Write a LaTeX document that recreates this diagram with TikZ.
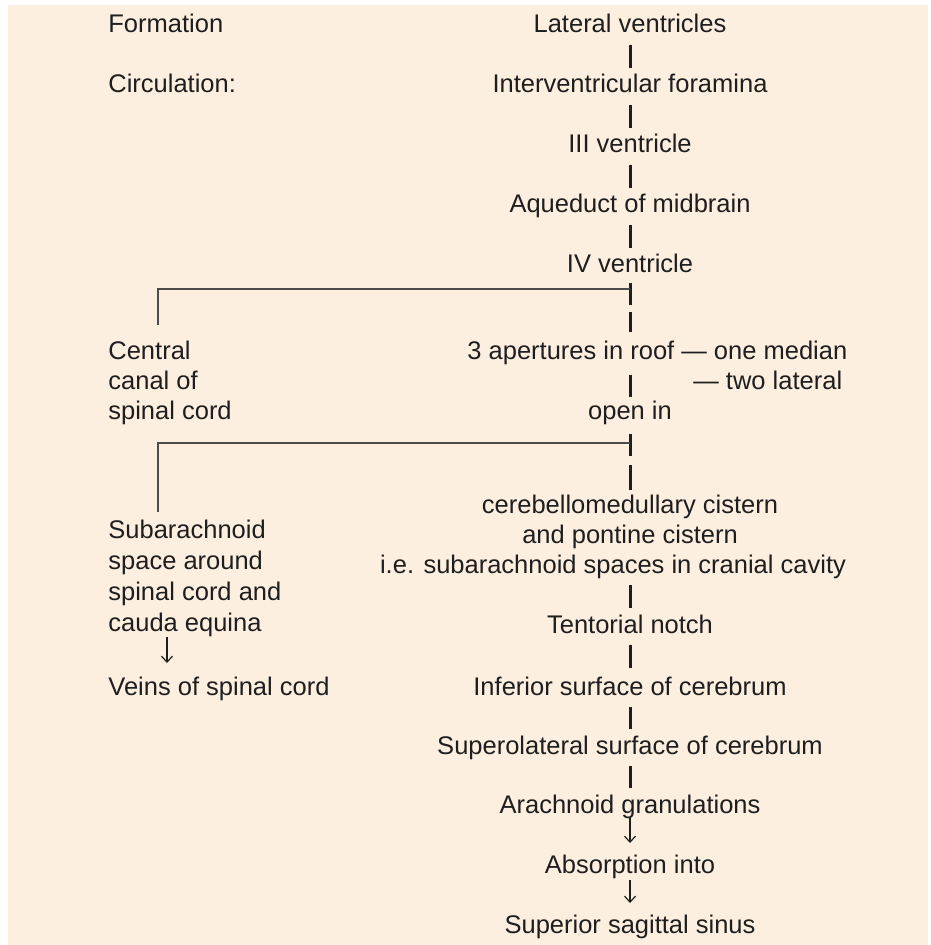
\documentclass[tikz,border=0pt]{standalone}
\usepackage{fontspec}
\setmainfont{Liberation Sans}
\usetikzlibrary{arrows.meta,calc}
\definecolor{paper}{RGB}{252,239,224}
\definecolor{ink}{RGB}{30,30,30}
\definecolor{rulegray}{RGB}{75,75,75}
\begin{document}
\begin{tikzpicture}[x=0.5pt,y=-0.5pt,
  txt/.style={inner sep=0pt, text=ink, font=\fontsize{12.75}{15}\selectfont},
  mid/.style={txt, anchor=base},
  lft/.style={txt, anchor=base west},
  tick/.style={draw=ink, line width=1.5pt},
  branch/.style={draw=rulegray, line width=1.1pt},
  flow/.style={draw=ink, line width=0.6pt, -{Straight Barb[length=3pt,width=5.5pt]}}
]
\fill[white] (0,0) rectangle (930,945);
\fill[paper] (8,5) rectangle (928,945);
\useasboundingbox (0,0) rectangle (930,945);

% headings on the left
\node[lft] (formation) at (108,33) {Formation};
\node[lft] (circ) at (108,93) {Circulation:};

% main pathway
\node[mid] (lv)   at (630,33)  {Lateral ventricles};
\node[mid] (ivf)  at (630,93)  {Interventricular foramina};
\node[mid] (iii)  at (630,153) {III ventricle};
\node[mid] (aq)   at (630,213) {Aqueduct of midbrain};
\node[mid] (iv)   at (630,273) {IV ventricle};
\node[lft] (ap)   at (467,360) {3 apertures in roof — one median};
\node[lft] (lat)  at (693,390) {— two lateral};
\node[mid] (open) at (630,420) {open in};
\node[mid] (cm)   at (630,513) {cerebellomedullary cistern};
\node[mid] (pc)   at (630,543) {and pontine cistern};
\node[mid] (ie)   at (613,573) {i.e. subarachnoid spaces in cranial cavity};
\node[mid] (tn)   at (630,633) {Tentorial notch};
\node[mid] (inf)  at (630,695) {Inferior surface of cerebrum};
\node[mid] (sl)   at (630,754) {Superolateral surface of cerebrum};
\node[mid] (ag)   at (630,813) {Arachnoid granulations};
\node[mid] (abs)  at (630,873) {Absorption into};
\node[mid] (sss)  at (630,933) {Superior sagittal sinus};

% side branches
\node[lft] (cc1) at (108,360) {Central};
\node[lft] (cc2) at (108,390) {canal of};
\node[lft] (cc3) at (108,420) {spinal cord};
\node[lft] (sa1) at (108,538) {Subarachnoid};
\node[lft] (sa2) at (108,569) {space around};
\node[lft] (sa3) at (108,600) {spinal cord and};
\node[lft] (sa4) at (108,631) {cauda equina};
\node[lft] (vn)  at (108,695) {Veins of spinal cord};

% short ticks along the main pathway
\draw[tick] ($(lv.base)+(0,12)$)  -- ($(ivf.base)+(0,-25)$);
\draw[tick] ($(ivf.base)+(0,12)$) -- ($(iii.base)+(0,-25)$);
\draw[tick] ($(iii.base)+(0,12)$) -- ($(aq.base)+(0,-25)$);
\draw[tick] ($(aq.base)+(0,12)$)  -- ($(iv.base)+(0,-25)$);
\draw[tick] ($(iv.base)+(0,10)$)  -- ($(iv.base)+(0,32)$);
\draw[tick] ($(iv.base)+(0,39)$)  -- ($(iv.base)+(0,59)$);
\draw[tick] ($(open.base)+(0,-45)$) -- ($(open.base)+(0,-23)$);
\draw[tick] ($(open.base)+(0,14)$) -- ($(open.base)+(0,36)$);
\draw[tick] ($(open.base)+(0,45)$) -- ($(cm.base)+(0,-23)$);
\draw[tick] ($(tn.base)+(0,-48)$) -- ($(tn.base)+(0,-25)$);
\draw[tick] ($(tn.base)+(0,12)$)  -- ($(inf.base)+(0,-27)$);
\draw[tick] ($(inf.base)+(0,12)$) -- ($(sl.base)+(0,-25)$);
\draw[tick] ($(sl.base)+(0,12)$)  -- ($(ag.base)+(0,-25)$);

% branches to the left
\coordinate (s1) at ($(iv.base)+(0,16)$);
\coordinate (s2) at ($(open.base)+(0,23)$);
\draw[branch] (s1) -| ($(cc1.base west)+(50,-35)$);
\draw[branch] (s2) -| ($(sa1.base west)+(50,-26)$);

% arrows
\draw[flow] ($(ag.base)+(0,5)$)  -- ($(abs.base)+(0,-30)$);
\draw[flow] ($(abs.base)+(0,7)$) -- ($(sss.base)+(0,-30)$);
\draw[flow] ($(sa4.base west)+(59,6)$) -- ($(vn.base west)+(59,-32)$);
\end{tikzpicture}
\end{document}
